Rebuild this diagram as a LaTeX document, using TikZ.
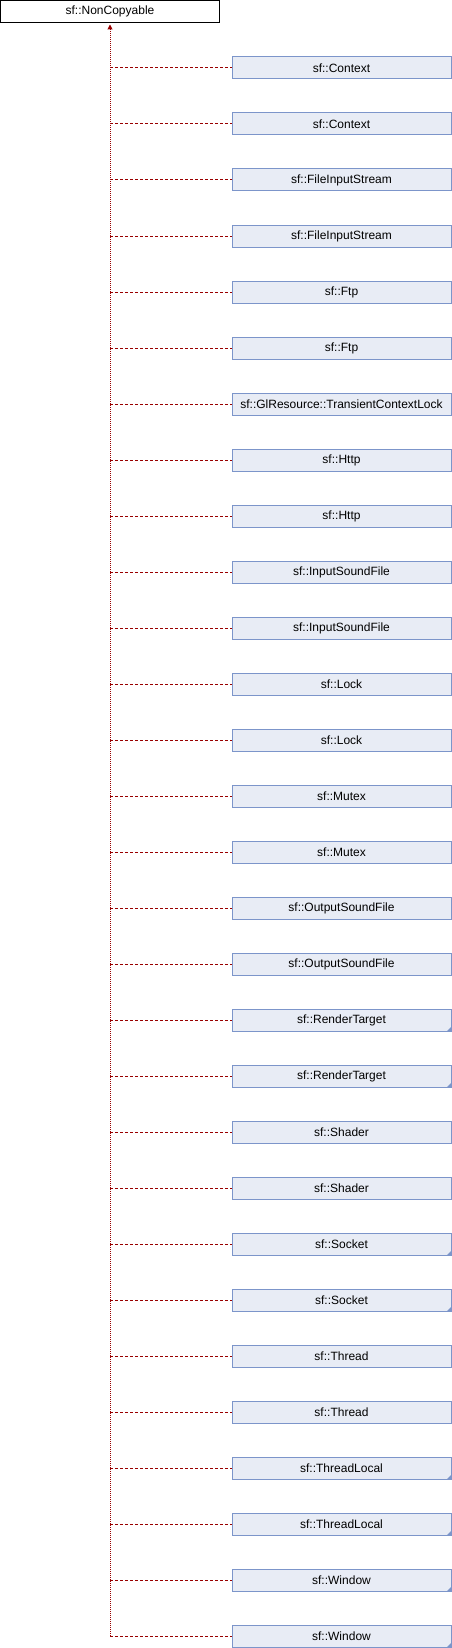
\documentclass[tikz,border=0pt]{standalone}
\usepackage{fontspec}
\setmainfont{Liberation Sans}
\usetikzlibrary{arrows.meta}
\definecolor{edgecol}{RGB}{153,0,0}
\definecolor{boxfill}{RGB}{232,236,245}
\definecolor{boxdraw}{RGB}{124,149,202}
\begin{document}
\begin{tikzpicture}[x=1pt,y=-1pt,font=\fontsize{12}{14}\selectfont,
  basebox/.style={draw=black,fill=white,line width=1pt,minimum width=219pt,minimum height=22.5pt,inner sep=0pt},
  classbox/.style={draw=boxdraw,fill=boxfill,line width=1pt,minimum width=219pt,minimum height=22pt,inner sep=0pt},
  spine/.style={draw=edgecol,line width=1pt,dash pattern=on 1pt off 1pt},
  branch/.style={draw=edgecol,line width=1pt,dash pattern=on 3pt off 2pt}]
\useasboundingbox (0,0) rectangle (452,1648);
\node[basebox] (base) at (110,11.75) {sf::NonCopyable};
\foreach \name [count=\i from 0] in {sf::Context,sf::Context,sf::FileInputStream,sf::FileInputStream,sf::Ftp,sf::Ftp,sf::GlResource::TransientContextLock,sf::Http,sf::Http,sf::InputSoundFile,sf::InputSoundFile,sf::Lock,sf::Lock,sf::Mutex,sf::Mutex,sf::OutputSoundFile,sf::OutputSoundFile,sf::RenderTarget,sf::RenderTarget,sf::Shader,sf::Shader,sf::Socket,sf::Socket,sf::Thread,sf::Thread,sf::ThreadLocal,sf::ThreadLocal,sf::Window,sf::Window}
  {\node[classbox] (c\i) at (341.5,68+56*\i) {\name};}
\foreach \i in {17,18,21,22,25,26,27,28}
  {\fill[boxdraw] (c\i.south east) -- ++(-5,0) -- ++(5,-5) -- cycle;}
\draw[spine,{Triangle[length=5pt,width=5pt,fill=edgecol]}-] ([yshift=-1pt]base.south) -- (base.south |- c28.west);
\foreach \i in {0,...,28}
  {\draw[branch] (base.south |- c\i.west) -- (c\i.west);}
\end{tikzpicture}
\end{document}
